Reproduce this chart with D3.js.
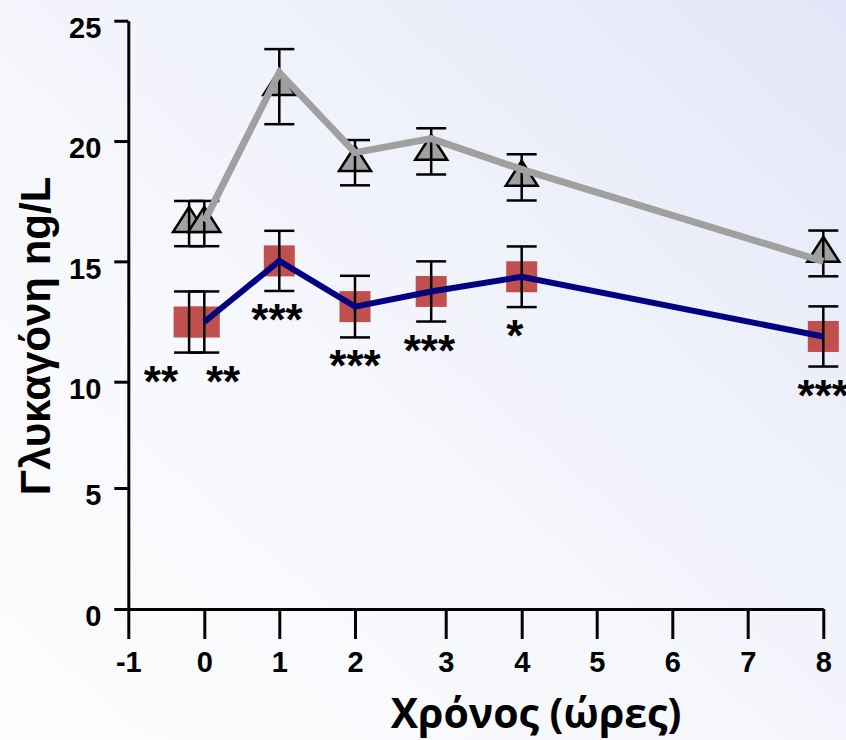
<!DOCTYPE html>
<html>
<head>
<meta charset="utf-8">
<script src="https://cdn.jsdelivr.net/npm/d3@7"></script>
<style>
body { margin: 0; }
svg { display: block; }
</style>
</head>
<body>
<script>
// values
var hours     = [-0.2, 0, 1, 2, 2.84, 4, 8];
var greyMean  = [16.57, 16.57, 22.26, 19.1, 19.57, 18.49, 15.33];
var greyErr   = [0.94, 0.94, 1.56, 0.94, 0.96, 0.96, 0.95];
var greyLine  = [null, 16.65, 22.85, 19.52, 20.1, 18.82, 15.0];
var redMean   = [12.48, 12.48, 15.02, 13.12, 13.75, 14.36, 11.88];
var redErr    = [1.27, 1.27, 1.25, 1.28, 1.25, 1.26, 1.25];
var sigX      = [-0.57, 0.25, 0.97, 2, 2.82, 3.91, 8];
var sigPoint  = [0, 0, 2, 3, 4, 5, 6];
var sigLabel  = ["**", "**", "***", "***", "***", "*", "***"];
var xTicks    = [-1, 0, 1, 2, 3, 4, 5, 6, 7, 8];
var yTicks    = [0, 5, 10, 15, 20, 25];

var width = 846, height = 740;

var xScale = d3.scaleLinear().domain(xTicks)
  .range([128.3, 204.3, 279.3, 355, 445.7, 521.7, 596.7, 672.3, 747.7, 823.3]);
var yScale = d3.scaleLinear().domain([0, 5, 10, 25]).range([609, 488, 381.7, 20.7]);

var svg = d3.select("body").append("svg")
  .attr("width", width)
  .attr("height", height);

var grad = svg.append("defs").append("linearGradient")
  .attr("id", "bg")
  .attr("x1", 0).attr("y1", 1).attr("x2", 1).attr("y2", 0);
grad.append("stop").attr("offset", "0%").attr("stop-color", "#fdfdfe");
grad.append("stop").attr("offset", "45%").attr("stop-color", "#f6f7fc");
grad.append("stop").attr("offset", "100%").attr("stop-color", "#e3e6f8");

svg.append("rect")
  .attr("width", width).attr("height", height)
  .attr("fill", "url(#bg)");

// axes
var yAxis = d3.axisLeft(yScale).tickValues(yTicks).tickFormat(String)
  .tickSize(14).tickSizeOuter(0).tickPadding(13);
var yAxisGroup = svg.append("g")
  .attr("transform", "translate(" + xScale(-1) + ",0)")
  .call(yAxis);

var xAxis = d3.axisBottom(xScale).tickValues(xTicks).tickFormat(String)
  .tickSize(30).tickSizeOuter(0).tickPadding(12);
var xAxisGroup = svg.append("g")
  .attr("transform", "translate(0," + yScale(0) + ")")
  .call(xAxis);

svg.selectAll(".domain, .tick line")
  .attr("stroke", "#000")
  .attr("stroke-width", 3);
svg.selectAll(".tick text")
  .attr("fill", "#000")
  .attr("font-family", "'Liberation Sans', Arial, sans-serif")
  .attr("font-weight", "bold")
  .attr("font-size", 29);
yAxisGroup.selectAll("text")
  .attr("dy", "0.58em");

// markers
var triW = 32, triH = 25;
var triPath = "M0," + (-triH * 2 / 3) + "L" + (triW / 2) + "," + (triH / 3) + "L" + (-triW / 2) + "," + (triH / 3) + "Z";

svg.append("g").selectAll("path")
  .data(hours)
  .join("path")
  .attr("d", triPath)
  .attr("transform", function(d, i) { return "translate(" + xScale(d) + "," + yScale(greyMean[i]) + ")"; })
  .attr("fill", "#a0a0a0")
  .attr("stroke", "#000")
  .attr("stroke-width", 2.5)
  .attr("stroke-linejoin", "miter");

var sq = 31;
svg.append("g").selectAll("rect")
  .data(hours)
  .join("rect")
  .attr("x", function(d) { return xScale(d) - sq / 2; })
  .attr("y", function(d, i) { return yScale(redMean[i]) - sq / 2; })
  .attr("width", sq)
  .attr("height", sq)
  .attr("fill", "#c0504d");

// error bars
function errorBars(means, errs) {
  var g = svg.append("g").attr("stroke", "#000").attr("stroke-width", 2.5);
  hours.forEach(function(h, i) {
    var x = xScale(h);
    var top = yScale(means[i] + errs[i]);
    var bot = yScale(means[i] - errs[i]);
    g.append("line").attr("x1", x).attr("x2", x).attr("y1", top).attr("y2", bot);
    g.append("line").attr("x1", x - 15).attr("x2", x + 15).attr("y1", top).attr("y2", top);
    g.append("line").attr("x1", x - 15).attr("x2", x + 15).attr("y1", bot).attr("y2", bot);
  });
}
errorBars(greyMean, greyErr);
errorBars(redMean, redErr);

// lines
var greyPath = d3.line()
  .defined(function(d) { return d != null; })
  .x(function(d, i) { return xScale(hours[i]); })
  .y(function(d) { return yScale(d); });

svg.append("path")
  .attr("d", greyPath(greyLine))
  .attr("fill", "none")
  .attr("stroke", "#a0a0a0")
  .attr("stroke-width", 7);

var bluePath = d3.line()
  .x(function(d, i) { return xScale(hours[i + 1]); })
  .y(function(d) { return yScale(d); });

svg.append("path")
  .attr("d", bluePath(redMean.slice(1)))
  .attr("fill", "none")
  .attr("stroke", "#000080")
  .attr("stroke-width", 6);

// significance stars
svg.append("g").selectAll("text")
  .data(sigLabel)
  .join("text")
  .attr("x", function(d, i) { return xScale(sigX[i]); })
  .attr("y", function(d, i) { var p = sigPoint[i]; return yScale(redMean[p] - redErr[p]); })
  .attr("dy", "1.0em")
  .attr("text-anchor", "middle")
  .style("font-family", "'Liberation Sans', Arial, sans-serif")
  .style("font-weight", "bold")
  .style("font-size", "44px")
  .text(function(d) { return d; });

// titles
svg.append("text")
  .attr("transform", "translate(50,336) rotate(-90)")
  .attr("text-anchor", "middle")
  .style("font-family", "'Liberation Sans', Arial, sans-serif")
  .style("font-weight", "bold")
  .style("font-size", "42px")
  .text("Γλυκαγόνη ng/L");

svg.append("text")
  .attr("x", 536)
  .attr("y", 728)
  .attr("text-anchor", "middle")
  .style("font-family", "'Open Sans', sans-serif")
  .style("font-weight", "bold")
  .style("font-size", "41px")
  .text("Χρόνος (ώρες)");
</script>
</body>
</html>
